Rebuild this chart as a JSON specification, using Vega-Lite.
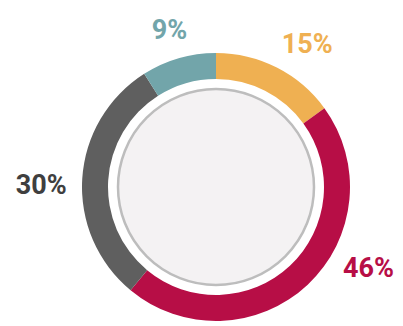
{
  "$schema": "https://vega.github.io/schema/vega-lite/v6.json",
  "width": 374,
  "height": 278,
  "padding": {"left": 29, "top": 48, "right": 0, "bottom": 0},
  "autosize": {"type": "none"},
  "background": "white",
  "view": {"stroke": null},
  "datasets": {
    "shares": [
      {"category": "A", "label": "15%", "value": 15, "idx": 1},
      {"category": "B", "label": "46%", "value": 46, "idx": 2},
      {"category": "C", "label": "30%", "value": 30, "idx": 3},
      {"category": "D", "label": "9%", "value": 9, "idx": 4}
    ],
    "disc": [{"value": 1}]
  },
  "layer": [
    {
      "data": {"name": "shares"},
      "mark": {"type": "arc", "innerRadius": 108, "outerRadius": 134, "strokeWidth": 0},
      "encoding": {
        "theta": {"field": "value", "type": "quantitative", "stack": true},
        "order": {"field": "idx", "type": "quantitative"},
        "color": {"field": "category", "type": "nominal", "legend": null,
          "scale": {"domain": ["A", "B", "C", "D"], "range": ["#EFB052", "#B70E46", "#5F5F5F", "#72A5AA"]}}
      }
    },
    {
      "data": {"name": "disc"},
      "mark": {"type": "arc", "innerRadius": 0, "outerRadius": 98, "fill": "#F4F2F3", "stroke": "#BDBDBD", "strokeWidth": 2.5},
      "encoding": {
        "theta": {"field": "value", "type": "quantitative"}
      }
    },
    {
      "data": {"name": "shares"},
      "mark": {"type": "text", "radius": 170, "font": "Roboto", "fontWeight": "bold", "fontSize": 27, "dx": 14, "dy": 9, "color": "#EFB052"},
      "encoding": {
        "theta": {"field": "value", "type": "quantitative", "stack": true},
        "order": {"field": "idx", "type": "quantitative"},
        "text": {"condition": {"test": "datum.category == 'A'", "field": "label"}, "value": ""}
      }
    },
    {
      "data": {"name": "shares"},
      "mark": {"type": "text", "radius": 170, "font": "Roboto", "fontWeight": "bold", "fontSize": 27, "dx": 36, "dy": -42, "color": "#B70E46"},
      "encoding": {
        "theta": {"field": "value", "type": "quantitative", "stack": true},
        "order": {"field": "idx", "type": "quantitative"},
        "text": {"condition": {"test": "datum.category == 'B'", "field": "label"}, "value": ""}
      }
    },
    {
      "data": {"name": "shares"},
      "mark": {"type": "text", "radius": 170, "font": "Roboto", "fontWeight": "bold", "fontSize": 27, "dx": -5, "dy": 10, "color": "#3F3F3F"},
      "encoding": {
        "theta": {"field": "value", "type": "quantitative", "stack": true},
        "order": {"field": "idx", "type": "quantitative"},
        "text": {"condition": {"test": "datum.category == 'C'", "field": "label"}, "value": ""}
      }
    },
    {
      "data": {"name": "shares"},
      "mark": {"type": "text", "radius": 170, "font": "Roboto", "fontWeight": "bold", "fontSize": 27, "dx": 1, "dy": 7, "color": "#72A5AA"},
      "encoding": {
        "theta": {"field": "value", "type": "quantitative", "stack": true},
        "order": {"field": "idx", "type": "quantitative"},
        "text": {"condition": {"test": "datum.category == 'D'", "field": "label"}, "value": ""}
      }
    }
  ],
  "resolve": {"scale": {"theta": "independent"}}
}
